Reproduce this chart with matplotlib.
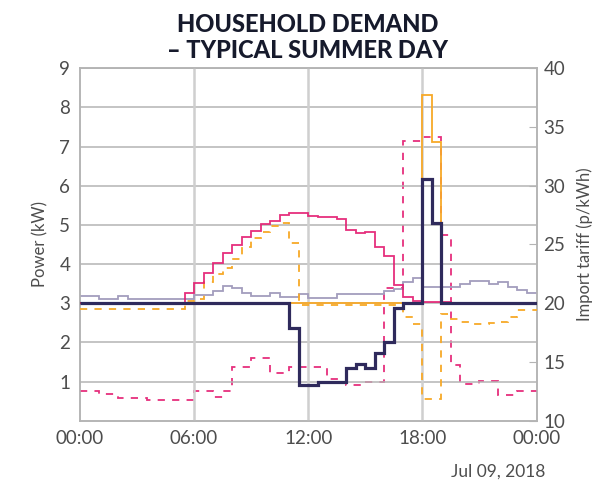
import numpy as np
import matplotlib
matplotlib.use("Agg")
import matplotlib.pyplot as plt

# ---- data (half-hourly steps, 48 values starting 00:00) ----
hours = np.arange(0, 24.5, 0.5)  # step edges

base_load = [3.18, 3.18, 3.11, 3.11, 3.18, 3.11, 3.11, 3.11, 3.11, 3.11, 3.11, 3.11,
             3.21, 3.21, 3.32, 3.44, 3.38, 3.25, 3.18, 3.18, 3.25, 3.15, 3.15, 3.23,
             3.14, 3.14, 3.14, 3.23, 3.23, 3.23, 3.23, 3.23, 3.30, 3.37, 3.53, 3.64,
             3.42, 3.42, 3.42, 3.42, 3.49, 3.57, 3.57, 3.49, 3.53, 3.42, 3.34, 3.25]

solar = [3.0, 3.0, 3.0, 3.0, 3.0, 3.0, 3.0, 3.0, 3.0, 3.0, 3.0, 3.27,
         3.52, 3.78, 4.02, 4.29, 4.49, 4.68, 4.85, 5.02, 5.11, 5.25, 5.30, 5.30,
         5.24, 5.19, 5.19, 5.15, 4.87, 4.79, 4.83, 4.44, 4.21, 3.47, 3.17, 3.06,
         3.04, 3.04, 3.04, 3.0, 3.0, 3.0, 3.0, 3.0, 3.0, 3.0, 3.0, 3.0]

battery = [2.84, 2.84, 2.84, 2.84, 2.84, 2.84, 2.84, 2.84, 2.84, 2.84, 2.84, 3.05,
           3.10, 3.55, 3.75, 3.89, 4.12, 4.44, 4.66, 4.81, 4.96, 5.06, 4.55, 2.96,
           2.96, 2.96, 2.96, 2.96, 2.96, 2.96, 2.96, 2.96, 2.96, 2.96, 2.64, 2.47,
           0.55, 0.55, 2.72, 2.59, 2.53, 2.47, 2.47, 2.50, 2.53, 2.66, 2.83, 2.83]

ev_charge = [3.0] * 36 + [8.31, 7.13] + [3.0] * 10

grid = [3.0] * 22 + [2.38, 0.90,
        0.90, 0.98, 0.98, 0.98, 1.34, 1.45, 1.34, 1.74, 2.02, 2.88, 3.0, 3.0,
        6.17, 5.06] + [3.0] * 10

tariff = [12.53, 12.53, 12.27, 12.27, 11.96, 11.96, 11.96, 11.76, 11.76, 11.76, 11.76, 11.76,
          12.53, 12.53, 12.04, 12.53, 14.6, 14.6, 15.36, 15.36, 14.09, 14.09, 14.6, 14.6,
          14.6, 14.6, 13.52, 13.52, 13.04, 13.04, 13.27, 13.27, 21.27, 21.27, 33.84, 33.84,
          34.13, 34.13, 25.8, 14.74, 13.1, 13.1, 13.38, 13.38, 12.19, 12.19, 12.55, 12.55]

x_ticks = [0, 6, 12, 18, 24]
x_ticklabels = ["00:00", "06:00", "12:00", "18:00", "00:00"]
left_ticks = [1, 2, 3, 4, 5, 6, 7, 8, 9]
right_ticks = [10, 15, 20, 25, 30, 35, 40]

# ---- styling ----
FONT = "Lato"
TICK_COLOR = "#4d4d4d"
GRID_COLOR = "#b4b4b4"
NAVY = "#2f2a5c"
PINK = "#e3196f"
ORANGE = "#f7a928"
GREY = "#a39dbd"

fig = plt.figure(figsize=(6.11, 4.84), dpi=100)
ax = fig.add_axes([80 / 611, 1 - 420.7 / 484, 456.5 / 611, 352.4 / 484])
ax2 = ax.twinx()

ax.set_xlim(0, 24)
ax.set_ylim(0, 9)
ax2.set_ylim(10, 40)

# grid
for yv in left_ticks:
    ax.axhline(yv, color=GRID_COLOR, lw=1.1, zorder=0)
for xv in x_ticks[1:-1]:
    ax.axvline(xv, color="#cfcfcf", lw=1.8, zorder=0)

ax.stairs(base_load, hours, baseline=None, color=GREY, lw=1.3, zorder=2)
ax.stairs(battery, hours, baseline=None, color=ORANGE, lw=1.3, ls=(0, (4, 4)), zorder=3)
ax.stairs(ev_charge, hours, baseline=None, color=ORANGE, lw=1.3, zorder=3)
ax.stairs(solar, hours, baseline=None, color=PINK, lw=1.3, alpha=0.9, zorder=4)
ax.stairs(grid, hours, baseline=None, color=NAVY, lw=2.3, zorder=5)
ax2.stairs(tariff, hours, baseline=None, color=PINK, lw=1.3, ls=(0, (4, 4)),
           alpha=0.9, zorder=4)

ax.set_zorder(ax2.get_zorder() + 1)
ax.patch.set_visible(False)

# spines
for a in (ax, ax2):
    for s in a.spines.values():
        s.set_color(GRID_COLOR)
        s.set_linewidth(1.1)

tick_font = dict(fontsize=13.5, color=TICK_COLOR, family=FONT, fontweight="normal")
ax.set_xticks(x_ticks)
ax.set_xticklabels(x_ticklabels, **tick_font)
ax.set_yticks(left_ticks)
ax.set_yticklabels([str(v) for v in left_ticks], **tick_font)
ax.tick_params(axis="both", length=0, pad=7)

ax2.set_yticks(right_ticks)
ax2.set_yticklabels([str(v) for v in right_ticks], **tick_font)
ax2.tick_params(axis="y", direction="in", length=6, color=GRID_COLOR, pad=5)

ax.set_ylabel("Power (kW)", fontsize=12, color=TICK_COLOR, family=FONT, labelpad=8)
ax2.set_ylabel("Import tariff (p/kWh)", fontsize=12, color=TICK_COLOR, family=FONT,
               labelpad=8)

fig.text(0.503, 1 - 13 / 484, "HOUSEHOLD DEMAND\n– TYPICAL SUMMER DAY",
         ha="center", va="top", fontsize=17, fontweight="black", family=FONT,
         color="#161a2c", linespacing=1.15)

fig.text(545 / 611, 1 - 472 / 484, "Jul 09, 2018", ha="right", va="center",
         fontsize=12.5, color=TICK_COLOR, family=FONT)

fig.savefig("out.png", dpi=100)
